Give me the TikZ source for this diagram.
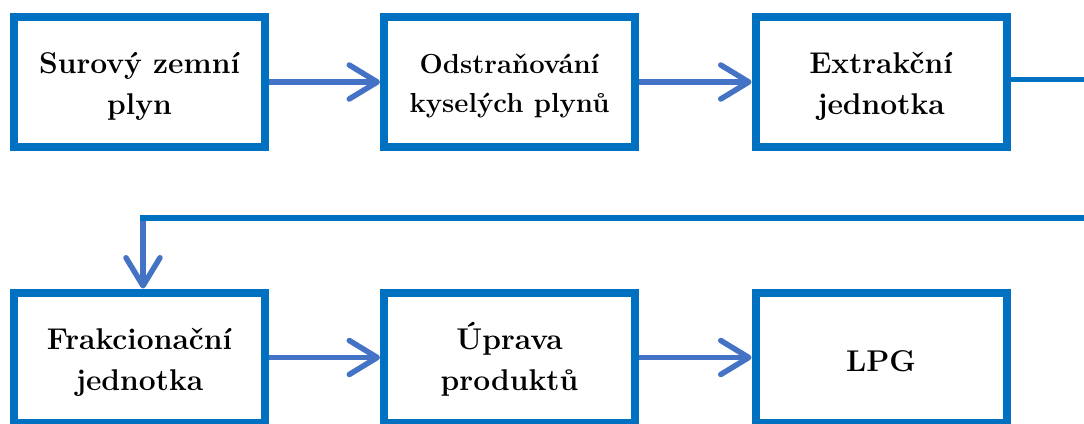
\documentclass[tikz,border=0pt]{standalone}
\usepackage{fontspec}
\usetikzlibrary{arrows.meta}
\definecolor{boxblue}{HTML}{0070C0}
\definecolor{arrowblue}{HTML}{4472C4}
\newcommand{\bigtext}{\bfseries\fontsize{30}{41}\selectfont}
\newcommand{\midtext}{\bfseries\fontsize{27.5}{39}\selectfont}
\begin{document}
\begin{tikzpicture}[x=1pt,y=-1pt,
  caption/.style={align=center, inner sep=0pt},
  stage/.style n args={3}{draw=boxblue, line width=8pt, fill=white,
    minimum width=251pt, minimum height=130pt, inner sep=0pt,
    label={[caption, yshift=#2, font=#3]center:#1}},
  flow/.style={draw=arrowblue, line width=5.5pt,
    -{Straight Barb[length=28pt,width=34pt,round]}},
  link/.style={draw=boxblue, line width=5.5pt}]
\useasboundingbox (0,0) rectangle (1084,423);

% top row
\node[stage={Surový zemní\\plyn}{-4.5pt}{\bigtext}] (raw) at (139.5,82) {};
\node[stage={Odstraňování\\kyselých plynů}{-3.5pt}{\midtext}] (acid) at (509.5,82) {};
\node[stage={Extrakční\\jednotka}{-4.5pt}{\bigtext}] (ext) at (881,82) {};

% bottom row
\node[stage={Frakcionační\\jednotka}{-4.5pt}{\bigtext}] (frak) at (139.5,357.5) {};
\node[stage={Úprava\\produktů}{-2pt}{\bigtext}] (prod) at (509.5,357.5) {};
\node[stage={LPG}{-4pt}{\bigtext}] (lpg) at (881,357.5) {};

% flows within the rows
\draw[flow] (raw) -- (acid);
\draw[flow] (acid) -- (ext);
\draw[flow] (frak) -- (prod);
\draw[flow] (prod) -- (lpg);

% line from the extraction unit back round to the fractionation unit
\coordinate (outR) at (1084,79.5);
\coordinate (inR) at (1084,218);
\coordinate (turn) at (143,218);
\draw[link] (ext.east |- outR) -- (outR);
\draw[flow] (turn) -- (turn |- frak.north);
\draw[link, line cap=rect] (inR) -- (turn);
\end{tikzpicture}
\end{document}
